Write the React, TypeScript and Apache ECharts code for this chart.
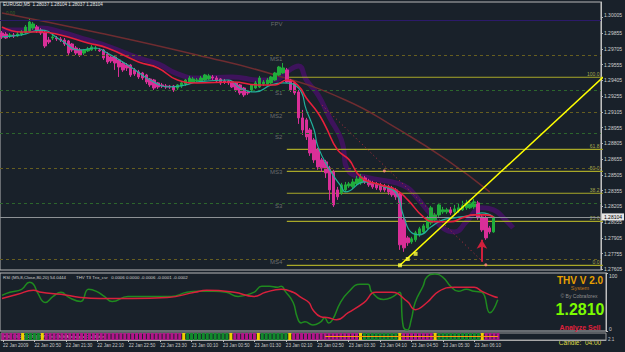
import React, { useEffect, useRef } from 'react';
import * as echarts from 'echarts';

const FONT = 'Liberation Sans, Arial, sans-serif';
const SLOTS = 154;

const tickLabels = ['22 Jan 2009', '22 Jan 20:50', '22 Jan 21:30', '22 Jan 22:10', '22 Jan 22:50', '22 Jan 23:30', '23 Jan 00:10', '23 Jan 00:50', '23 Jan 01:30', '23 Jan 02:10', '23 Jan 02:50', '23 Jan 03:30', '23 Jan 04:10', '23 Jan 04:50', '23 Jan 05:30', '23 Jan 06:10'];

const priceTicks = [1.30005, 1.29855, 1.29705, 1.29555, 1.29405, 1.29255, 1.29105, 1.28955, 1.28805, 1.28655, 1.28505, 1.28355, 1.28205, 1.28055, 1.27905, 1.27755, 1.27605];

// [open, close, low, high]
const candles: number[][] = [
  [1.29856, 1.29818, 1.29799, 1.29875], [1.29846, 1.29808, 1.29799, 1.29865], [1.29827, 1.29837, 1.29808, 1.29856], [1.29837, 1.29827, 1.29808, 1.29856],
  [1.29827, 1.29846, 1.29818, 1.29865], [1.29846, 1.29865, 1.29827, 1.29884], [1.29856, 1.29913, 1.29846, 1.29932], [1.29875, 1.29961, 1.29865, 1.29989],
  [1.29903, 1.29942, 1.29884, 1.29961], [1.29913, 1.29875, 1.29856, 1.29932], [1.29884, 1.29856, 1.29837, 1.29903], [1.29865, 1.29732, 1.29713, 1.29875],
  [1.29789, 1.29770, 1.29751, 1.29818], [1.29808, 1.29818, 1.29789, 1.29837], [1.29808, 1.29799, 1.29780, 1.29827], [1.29799, 1.29789, 1.29770, 1.29818],
  [1.29789, 1.29751, 1.29732, 1.29808], [1.29780, 1.29665, 1.29646, 1.29789], [1.29751, 1.29694, 1.29675, 1.29761], [1.29713, 1.29665, 1.29646, 1.29732],
  [1.29694, 1.29646, 1.29627, 1.29713], [1.29665, 1.29694, 1.29646, 1.29704], [1.29685, 1.29704, 1.29675, 1.29723], [1.29694, 1.29723, 1.29685, 1.29742],
  [1.29704, 1.29713, 1.29685, 1.29732], [1.29694, 1.29685, 1.29675, 1.29713], [1.29694, 1.29618, 1.29599, 1.29704], [1.29656, 1.29580, 1.29561, 1.29675],
  [1.29627, 1.29589, 1.29570, 1.29646], [1.29627, 1.29570, 1.29504, 1.29637], [1.29599, 1.29532, 1.29437, 1.29608], [1.29570, 1.29504, 1.29485, 1.29589],
  [1.29551, 1.29523, 1.29494, 1.29570], [1.29551, 1.29456, 1.29437, 1.29561], [1.29504, 1.29466, 1.29447, 1.29523], [1.29485, 1.29437, 1.29418, 1.29504],
  [1.29475, 1.29427, 1.29408, 1.29485], [1.29456, 1.29389, 1.29370, 1.29466], [1.29418, 1.29361, 1.29342, 1.29427], [1.29408, 1.29332, 1.29313, 1.29418],
  [1.29380, 1.29342, 1.29323, 1.29389], [1.29361, 1.29351, 1.29332, 1.29380], [1.29351, 1.29342, 1.29323, 1.29370], [1.29351, 1.29342, 1.29323, 1.29361],
  [1.29351, 1.29313, 1.29294, 1.29361], [1.29332, 1.29361, 1.29313, 1.29370], [1.29351, 1.29380, 1.29332, 1.29399], [1.29370, 1.29408, 1.29351, 1.29418],
  [1.29380, 1.29427, 1.29370, 1.29447], [1.29389, 1.29418, 1.29380, 1.29437], [1.29399, 1.29408, 1.29389, 1.29427], [1.29399, 1.29427, 1.29389, 1.29447],
  [1.29408, 1.29456, 1.29399, 1.29466], [1.29418, 1.29447, 1.29408, 1.29466], [1.29437, 1.29427, 1.29408, 1.29456], [1.29427, 1.29399, 1.29389, 1.29447],
  [1.29418, 1.29380, 1.29361, 1.29427], [1.29399, 1.29389, 1.29370, 1.29418], [1.29399, 1.29380, 1.29361, 1.29408], [1.29389, 1.29342, 1.29332, 1.29399],
  [1.29380, 1.29313, 1.29294, 1.29389], [1.29361, 1.29285, 1.29266, 1.29370], [1.29332, 1.29266, 1.29247, 1.29342], [1.29294, 1.29285, 1.29266, 1.29313],
  [1.29313, 1.29361, 1.29294, 1.29370], [1.29332, 1.29380, 1.29323, 1.29399], [1.29342, 1.29427, 1.29332, 1.29447], [1.29370, 1.29389, 1.29351, 1.29408],
  [1.29370, 1.29408, 1.29361, 1.29427], [1.29380, 1.29437, 1.29370, 1.29447], [1.29408, 1.29475, 1.29399, 1.29485], [1.29456, 1.29532, 1.29447, 1.29542],
  [1.29475, 1.29523, 1.29466, 1.29570], [1.29504, 1.29389, 1.29380, 1.29523], [1.29408, 1.29313, 1.29294, 1.29418], [1.29380, 1.29285, 1.29266, 1.29389],
  [1.29294, 1.29047, 1.28990, 1.29313], [1.29047, 1.28932, 1.28885, 1.29123], [1.29028, 1.28866, 1.28837, 1.29047], [1.28932, 1.28713, 1.28685, 1.28951],
  [1.28837, 1.28647, 1.28618, 1.28856], [1.28742, 1.28580, 1.28552, 1.28761], [1.28647, 1.28571, 1.28533, 1.28666], [1.28628, 1.28523, 1.28475, 1.28647],
  [1.28571, 1.28361, 1.28266, 1.28590], [1.28533, 1.28218, 1.28199, 1.28552], [1.28361, 1.28295, 1.28266, 1.28390], [1.28333, 1.28409, 1.28314, 1.28428],
  [1.28361, 1.28409, 1.28342, 1.28437], [1.28399, 1.28418, 1.28380, 1.28437], [1.28390, 1.28437, 1.28371, 1.28466], [1.28418, 1.28466, 1.28399, 1.28494],
  [1.28428, 1.28485, 1.28409, 1.28513], [1.28475, 1.28437, 1.28418, 1.28494], [1.28447, 1.28409, 1.28390, 1.28466], [1.28428, 1.28390, 1.28371, 1.28447],
  [1.28418, 1.28380, 1.28361, 1.28437], [1.28409, 1.28361, 1.28342, 1.28428], [1.28399, 1.28361, 1.28342, 1.28418], [1.28390, 1.28342, 1.28314, 1.28409],
  [1.28380, 1.28314, 1.28295, 1.28399], [1.28361, 1.28295, 1.28266, 1.28380], [1.28323, 1.27838, 1.27790, 1.28342], [1.28076, 1.27809, 1.27771, 1.28095],
  [1.27904, 1.27857, 1.27828, 1.27923], [1.27866, 1.27895, 1.27847, 1.27914], [1.27885, 1.27952, 1.27866, 1.27971], [1.27933, 1.27990, 1.27914, 1.28009],
  [1.27961, 1.28018, 1.27942, 1.28037], [1.27999, 1.28095, 1.27980, 1.28114], [1.28047, 1.28190, 1.28028, 1.28209], [1.28076, 1.28123, 1.28057, 1.28142],
  [1.28123, 1.28218, 1.28104, 1.28237], [1.28152, 1.28171, 1.28133, 1.28199], [1.28152, 1.28171, 1.28133, 1.28190], [1.28171, 1.28142, 1.28123, 1.28199],
  [1.28152, 1.28180, 1.28133, 1.28218], [1.28161, 1.28190, 1.28142, 1.28228], [1.28171, 1.28209, 1.28161, 1.28257], [1.28190, 1.28237, 1.28171, 1.28266],
  [1.28190, 1.28237, 1.28180, 1.28266], [1.28199, 1.28247, 1.28180, 1.28276], [1.28237, 1.28095, 1.28076, 1.28257], [1.28104, 1.27980, 1.27961, 1.28123],
  [1.28095, 1.27904, 1.27885, 1.28114], [1.27999, 1.27961, 1.27942, 1.28018], [1.27961, 1.28104, 1.27952, 1.28104],
];

// [bar index, price]
const maFast = [[0, 1.29818], [5, 1.29837], [10, 1.29884], [15, 1.29789], [20, 1.29694], [24, 1.29713], [27, 1.29665], [33, 1.29532], [38, 1.29408], [43, 1.29342], [47, 1.29361], [50, 1.29389], [58, 1.29408], [61, 1.29332], [65, 1.29294], [69, 1.29361], [72, 1.29380], [76, 1.29332], [78, 1.29123], [80, 1.28932], [81, 1.28771], [84, 1.28552], [87, 1.28390], [88, 1.28342], [93, 1.28437], [98, 1.28390], [101, 1.28333], [103, 1.28104], [105, 1.27952], [107, 1.27933], [110, 1.28009], [113, 1.28076], [116, 1.28095], [121, 1.28123], [123, 1.28142], [126, 1.28104]];
const maSlow = [[0, 1.29913], [5, 1.29865], [10, 1.29865], [15, 1.29837], [22, 1.29761], [27, 1.29713], [35, 1.29580], [40, 1.29523], [45, 1.29408], [50, 1.29380], [59, 1.29389], [66, 1.29361], [70, 1.29361], [73, 1.29408], [76, 1.29351], [78, 1.29237], [81, 1.29094], [83, 1.28961], [86, 1.28742], [89, 1.28647], [91, 1.28523], [93, 1.28456], [97, 1.28409], [101, 1.28361], [104, 1.28266], [108, 1.28104], [111, 1.28057], [115, 1.28057], [118, 1.28095], [121, 1.28123], [124, 1.28123], [126, 1.28104]];
const maLong = [[0, 1.30046], [25, 1.29856], [50, 1.29646], [70, 1.29456], [88, 1.29218], [101, 1.28951], [114, 1.28647], [125, 1.28342]];
const shadowBand = [[0, 1.29884], [5, 1.29884], [10, 1.29903], [15, 1.29865], [22, 1.29789], [27, 1.29732], [35, 1.29618], [40, 1.29561], [45, 1.29466], [50, 1.29427], [59, 1.29437], [66, 1.29408], [70, 1.29408], [73, 1.29485], [76, 1.29542], [78, 1.29408], [81, 1.29266], [84, 1.29047], [87, 1.28837], [89, 1.28533], [93, 1.28485], [97, 1.28456], [101, 1.28428], [104, 1.28380], [106, 1.28304], [110, 1.28123], [113, 1.27999], [116, 1.27961], [119, 1.28057], [123, 1.28190], [126, 1.28171], [129, 1.28076], [131, 1.27999]];

const pivotNames = ['FPV', 'MS1', 'S1', 'MS2', 'S2', 'MS3', 'S3', 'MS4'];
const pivotLevels = [1.29973, 1.29646, 1.29313, 1.29101, 1.28901, 1.28568, 1.28237, 1.27704];

const fibNames = ['100.0', '61.8', '50.0', '38.2', '23.6', '0.0'];
const fibLevels = [1.29434, 1.28748, 1.28538, 1.28329, 1.28062, 1.27643];
const fibStart = 73;
const fibTrend = [[102.4, 1.27643], [153.5, 1.29434]];
const fibDots = [[102.4, 1.27643], [104.1, 1.27703], [105.5, 1.27752]];
const zigLine = [[82, 1.29170], [123.5, 1.27647]];
const zigDots = [[98, 1.28542], [123.5, 1.27647]];
const arrowFrom = [123, 1.27676];
const arrowTo = [123, 1.27885];
const bid = 1.28104;

const rsiLine = [[0, 61.4], [2, 66.7], [5, 71.9], [7, 84.2], [8, 80.7], [9, 66.7], [11, 49.1], [13, 59.6], [15, 66.7], [17, 57.9], [20, 50.9], [22, 71.9], [24, 68.4], [26, 59.6], [28, 50.9], [32, 59.6], [35, 59.6], [40, 59.6], [43, 59.6], [47, 66.7], [50, 68.4], [54, 68.4], [57, 66.7], [60, 59.6], [64, 66.7], [66, 77.2], [68, 77.2], [70, 75.4], [71, 77.2], [72, 68.4], [74, 49.1], [75, 24.6], [76, 14.0], [77, 15.8], [79, 10.5], [81, 15.8], [82, 22.8], [83, 14.0], [84, 19.3], [86, 49.1], [88, 66.7], [91, 80.7], [93, 80.7], [94, 66.7], [97, 54.4], [99, 57.9], [101, 66.7], [102, 7.0], [103, 1.8], [104, 19.3], [105, 49.1], [107, 77.2], [108, 93.0], [110, 98.2], [112, 93.0], [114, 77.2], [116, 68.4], [118, 71.9], [120, 68.4], [122, 66.7], [124, 31.6], [126, 54.0]];
const rsiSignal = [[0, 56.1], [4, 63.2], [8, 70.2], [10, 66.7], [15, 63.2], [20, 57.9], [25, 56.1], [33, 56.1], [42, 57.9], [49, 66.7], [52, 70.2], [59, 66.7], [64, 59.6], [67, 66.7], [71, 71.9], [74, 66.7], [76, 57.9], [78, 49.1], [79, 36.8], [81, 24.6], [83, 22.8], [85, 19.3], [88, 31.6], [92, 49.1], [95, 66.7], [99, 66.7], [103, 50.9], [105, 36.8], [108, 49.1], [111, 68.4], [115, 75.4], [120, 75.4], [122, 68.4], [125, 59.6], [126, 57.9]];

const stripRuns: [string, number][] = [['M', 5], ['Y', 1], ['G', 4], ['Y', 1], ['M', 35], ['Y', 1], ['G', 11], ['Y', 1], ['M', 6], ['Y', 1], ['G', 7], ['Y', 1], ['M', 17], ['Y', 1], ['G', 9], ['Y', 1], ['M', 8], ['Y', 1], ['G', 11], ['Y', 1], ['M', 4]];
const stripColors: Record<string, string> = { M: '#b3158a', G: '#118a2c', Y: '#f0d000' };

export default function App() {
  const ref = useRef<HTMLDivElement>(null);
  useEffect(() => {
    if (!ref.current) return;
    const chart = echarts.init(ref.current, undefined, { renderer: 'svg' });
    const cats = Array.from({ length: SLOTS }, (_, i) => String(i));
    const lastSlot = SLOTS - 1;
    const stripStates: string[] = [];
    stripRuns.forEach(([s, n]) => { for (let k = 0; k < n; k++) stripStates.push(s); });

    const tickShown = (i: number) => i % 8 === 0 && i / 8 < tickLabels.length;

    const pivotMarks = pivotLevels.map((v, i) => ({
      yAxis: v,
      lineStyle: i === 0
        ? { color: '#2c1a6a', type: 'solid', width: 1.2 }
        : { color: pivotNames[i].startsWith('MS') ? '#665e20' : '#2c662c', type: [3, 3], width: 1 },
    }));
    const bidMark = {
      yAxis: bid,
      lineStyle: { color: '#8e9296', type: 'solid', width: 1 },
      label: { show: true, position: 'end', formatter: bid.toFixed(5), color: '#000', backgroundColor: '#e6e6e6', fontSize: 5, fontFamily: FONT, padding: [1, 2], distance: 1 },
    };
    const arrowMark = [
      { coord: arrowFrom, symbol: 'none', lineStyle: { color: '#d0203c', width: 2, type: 'solid' } },
      { coord: arrowTo, symbol: 'arrow', symbolSize: [8, 9] },
    ];

    const fibSeries = fibLevels.map((v, i) => ({
      name: 'fib ' + fibNames[i], type: 'line', xAxisIndex: 0, yAxisIndex: 0, symbol: 'none', z: 2.5,
      data: [[fibStart, v], [lastSlot + 0.5, v]],
      lineStyle: { color: '#a8a828', width: 1.2 },
    }));

    const option: any = {
      animation: false,
      backgroundColor: '#19212a',
      grid: [
        { left: 0, top: 2, width: 606, height: 268, show: true, borderColor: '#b8b8b8', borderWidth: 1 },
        { left: 0, top: 273, width: 606, height: 58, show: true, borderColor: '#b8b8b8', borderWidth: 1 },
        { left: 0, top: 333, width: 606, height: 7, show: true, borderColor: '#9a9a9a', borderWidth: 1 },
      ],
      xAxis: [
        { type: 'category', gridIndex: 0, data: cats, boundaryGap: true, show: false },
        { type: 'category', gridIndex: 1, data: cats, boundaryGap: true, show: false },
        {
          type: 'category', gridIndex: 2, data: cats, boundaryGap: true,
          axisLine: { show: true, lineStyle: { color: '#a8a8a8' } },
          axisTick: { show: true, alignWithLabel: true, length: 2, interval: (i: number) => tickShown(i), lineStyle: { color: '#c0c0c0' } },
          axisLabel: {
            interval: (i: number) => tickShown(i),
            formatter: (_v: string, i: number) => (tickShown(i) ? tickLabels[i / 8] : ''),
            align: 'left', color: '#c8c8c8', fontSize: 4.6, fontFamily: FONT, margin: 3,
          },
        },
      ],
      yAxis: [
        {
          type: 'value', gridIndex: 0, position: 'right', min: 1.27598, max: 1.30151, scale: true,
          splitLine: { show: false },
          axisLine: { show: true, lineStyle: { color: '#c0c0c0' } },
          axisTick: { show: true, length: 2, customValues: priceTicks, lineStyle: { color: '#c0c0c0' } },
          axisLabel: { customValues: priceTicks, formatter: (v: number) => v.toFixed(5), color: '#d0d0d0', fontSize: 5, fontFamily: FONT, margin: 3, verticalAlignMinLabel: 'bottom' },
        },
        {
          type: 'value', gridIndex: 1, position: 'right', min: 0, max: 100, interval: 100,
          splitLine: { show: false },
          axisLine: { show: true, lineStyle: { color: '#c0c0c0' } },
          axisTick: { show: true, length: 2 },
          axisLabel: { color: '#d0d0d0', fontSize: 5, fontFamily: FONT, margin: 3, verticalAlignMaxLabel: 'top', verticalAlignMinLabel: 'bottom' },
        },
        { type: 'value', gridIndex: 2, min: 0, max: 1, show: false },
      ],
      series: [
        {
          name: 'shadow', type: 'line', xAxisIndex: 0, yAxisIndex: 0, data: shadowBand, smooth: true, symbol: 'none', z: 1,
          lineStyle: { color: 'rgba(76,14,112,0.72)', width: 5 },
        },
        {
          name: 'MA long', type: 'line', xAxisIndex: 0, yAxisIndex: 0, data: maLong, smooth: true, symbol: 'none', z: 2,
          lineStyle: { color: '#6e2c30', width: 1.5 },
          markLine: {
            silent: true, symbol: ['none', 'none'], animation: false, precision: 5,
            label: { show: false },
            data: [...pivotMarks, bidMark, arrowMark],
          },
        },
        ...fibSeries,
        {
          name: 'fib labels', type: 'scatter', xAxisIndex: 0, yAxisIndex: 0, symbolSize: 1, z: 4,
          itemStyle: { color: 'rgba(0,0,0,0)' },
          data: fibLevels.map((v, i) => ({ value: [lastSlot, v], name: fibNames[i] })),
          label: { show: true, formatter: '{b}', position: [1, 0], align: 'right', verticalAlign: 'bottom', color: '#c8c858', fontSize: 5, fontFamily: FONT },
        },
        {
          name: 'EURUSD', type: 'candlestick', xAxisIndex: 0, yAxisIndex: 0, data: candles, barWidth: 3, z: 3,
          itemStyle: { color: '#20ad3c', color0: '#d92f98', borderColor: '#20ad3c', borderColor0: '#d92f98', borderWidth: 1 },
        },
        {
          name: 'pivot labels', type: 'scatter', xAxisIndex: 0, yAxisIndex: 0, symbolSize: 1, z: 4,
          itemStyle: { color: 'rgba(0,0,0,0)' },
          data: pivotLevels.map((v, i) => ({ value: [72, v], name: pivotNames[i] })),
          label: { show: true, formatter: '{b}', position: [0, 1], align: 'right', verticalAlign: 'top', color: '#7e8080', fontSize: 6, fontFamily: FONT },
        },
        {
          name: 'MA fast', type: 'line', xAxisIndex: 0, yAxisIndex: 0, data: maFast, smooth: true, symbol: 'none', z: 5,
          lineStyle: { color: '#22b09c', width: 1.2 },
        },
        {
          name: 'MA slow', type: 'line', xAxisIndex: 0, yAxisIndex: 0, data: maSlow, smooth: true, symbol: 'none', z: 6,
          lineStyle: { color: '#e8203c', width: 1.6 },
        },
        {
          name: 'fib trend', type: 'line', xAxisIndex: 0, yAxisIndex: 0, data: fibTrend, symbol: 'none', z: 7,
          lineStyle: { color: '#ffff00', width: 1.5 },
        },
        {
          name: 'fib dots', type: 'scatter', xAxisIndex: 0, yAxisIndex: 0, data: fibDots, symbol: 'rect', symbolSize: 4, z: 8,
          itemStyle: { color: '#ffff40' },
        },
        {
          name: 'zigzag', type: 'line', xAxisIndex: 0, yAxisIndex: 0, data: zigLine, symbol: 'none', z: 7,
          lineStyle: { color: '#c0303e', width: 1, type: [1, 3] },
        },
        {
          name: 'zig dots', type: 'scatter', xAxisIndex: 0, yAxisIndex: 0, data: zigDots, symbolSize: 3, z: 8,
          itemStyle: { color: '#ff8a80' },
        },
        {
          name: 'RSI', type: 'line', xAxisIndex: 1, yAxisIndex: 1, data: rsiLine, smooth: true, symbol: 'none',
          lineStyle: { color: '#1f8a1f', width: 1.5 },
        },
        {
          name: 'Signal', type: 'line', xAxisIndex: 1, yAxisIndex: 1, data: rsiSignal, smooth: true, symbol: 'none',
          lineStyle: { color: '#d8203c', width: 1.5 },
        },
        {
          name: 'strip', type: 'bar', xAxisIndex: 2, yAxisIndex: 2, barWidth: 3,
          data: stripStates.map((s) => ({ value: 1, itemStyle: { color: stripColors[s] } })),
          markLine: {
            silent: true, symbol: ['none', 'none'], label: { show: false },
            data: [[{ coord: [82, 0.6], lineStyle: { color: '#ff9a10', width: 1.2, type: 'solid' } }, { coord: [126, 0.6] }]],
          },
        },
      ],
      graphic: [
        { type: 'text', left: 3, top: 2, style: { text: 'EURUSD,M5  1.28037 1.28104 1.28037 1.28104', fill: '#e6e6e6', fontSize: 4.6, fontFamily: FONT } },
        { type: 'text', left: 6, top: 11, style: { text: '0.00', fill: '#3e6a26', fontSize: 4.6, fontFamily: FONT } },
        { type: 'text', left: 3, top: 275, style: { text: 'RSI (M5,8,Close,80,20) 54.0444', fill: '#d0d0d0', fontSize: 4.4, fontFamily: FONT } },
        { type: 'text', left: 76, top: 275, style: { text: 'THV T3 Trix_csr   0.0006 0.0000 -0.0006 -0.0001 -0.0002', fill: '#d0d0d0', fontSize: 4.4, fontFamily: FONT } },
        { type: 'text', x: 580, y: 280, style: { text: 'THV V 2.0', fill: '#e8a000', fontSize: 10, fontWeight: 'bold', fontFamily: FONT, align: 'center', verticalAlign: 'middle' } },
        { type: 'text', x: 580, y: 288, style: { text: 'System', fill: '#c07818', fontSize: 5.5, fontFamily: FONT, align: 'center', verticalAlign: 'middle' } },
        { type: 'text', x: 579, y: 296, style: { text: '© By Cobraforex', fill: '#909090', fontSize: 5, fontFamily: FONT, align: 'center', verticalAlign: 'middle' } },
        { type: 'text', x: 580, y: 309, style: { text: '1.2810', fill: '#7cfc00', fontSize: 16, fontWeight: 'bold', fontFamily: FONT, align: 'center', verticalAlign: 'middle' } },
        { type: 'text', x: 580, y: 327, style: { text: 'Analyze Sell', fill: '#e0203c', fontSize: 7, fontWeight: 'bold', fontFamily: FONT, align: 'center', verticalAlign: 'middle' } },
        { type: 'text', x: 580, y: 342, style: { text: 'Candle:  04:00', fill: '#dcdc48', fontSize: 6.5, fontFamily: FONT, align: 'center', verticalAlign: 'middle' } },
        { type: 'text', x: 608, y: 339, style: { text: '2.1', fill: '#c8c8c8', fontSize: 4.6, fontFamily: FONT, verticalAlign: 'middle' } },
        { type: 'text', left: 3, top: 334, style: { text: 'FRC FSD (60,20) THV Trix MultiAverages Oscillator', fill: '#f0f0f0', fontSize: 4.4, fontFamily: FONT } },
      ],
    };
    chart.setOption(option);
    return () => chart.dispose();
  }, []);
  return <div ref={ref} style={{ position: 'fixed', left: 0, top: 0, width: 625, height: 352 }} />;
}
